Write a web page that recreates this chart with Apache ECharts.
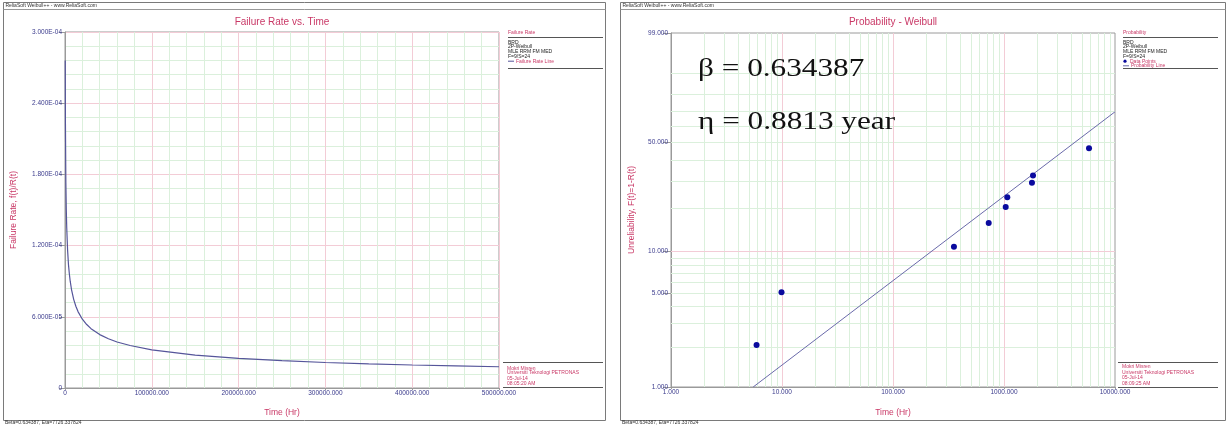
<!DOCTYPE html>
<html><head><meta charset="utf-8">
<style>html,body{margin:0;padding:0;background:#fff}#c{width:1230px;height:425px}</style>
<script src="https://cdn.jsdelivr.net/npm/echarts@6/dist/echarts.min.js"></script>
</head><body><div id="c"></div>
<script>
// ---- data ----
const rateTimes = [280, 500, 1000, 1500, 2000, 3000, 4000, 5000, 6000, 7500, 10000, 12500, 15000, 20000, 25000, 30000, 40000, 50000, 60000, 75000, 100000, 150000, 200000, 250000, 300000, 350000, 400000, 450000, 500000];
const rateValues = [2.76e-4, 2.23e-4, 1.73e-4, 1.50e-4, 1.35e-4, 1.16e-4, 1.04e-4, 9.63e-5, 9.0e-5, 8.30e-5, 7.47e-5, 6.89e-5, 6.44e-5, 5.80e-5, 5.35e-5, 5.00e-5, 4.50e-5, 4.15e-5, 3.88e-5, 3.58e-5, 3.22e-5, 2.77e-5, 2.50e-5, 2.30e-5, 2.15e-5, 2.04e-5, 1.94e-5, 1.86e-5, 1.79e-5];

const failTimes = [5.9, 9.9, 354, 728, 1036, 1071, 1786, 1825, 5834];
const unreliabilityPct = [2.06, 5.05, 10.77, 15.78, 20.27, 23.5, 29.2, 32.3, 46.5];
const lineTimes = [5.5, 10000];
const linePct = [1.0, 69.2];

const probLabelPct = [1, 5, 10, 50, 99];
const probMinorPct = [2, 3, 4, 5, 6, 7, 8, 9, 20, 30, 40, 50, 60, 70, 80, 90];
const probMajorPct = [10];
const timeMinorTicks = [2,3,4,5,6,7,8,9,20,30,40,50,60,70,80,90,200,300,400,500,600,700,800,900,2000,3000,4000,5000,6000,7000,8000,9000];
const timeMajorTicks = [10, 100, 1000];

// ---- helpers ----
const wb = p => Math.log(-Math.log(1 - p / 100));
const unwb = v => 100 * (1 - Math.exp(-Math.exp(v)));
const SANS = '"Liberation Sans", Arial, sans-serif';
const CRIMSON = '#c93866';
const NAVY = '#3a3a8c';
const PINK = '#f3ccd6';
const GREEN = '#dbf0dc';
const BORDER = '#7a7a7a';

function expLabel(v) {
  if (v === 0) return '0';
  const e = Math.floor(Math.log10(v) + 1e-9);
  const m = v / Math.pow(10, e);
  const sign = e < 0 ? '-' : '+';
  const a = Math.abs(e);
  return m.toFixed(3) + 'E' + sign + (a < 10 ? '0' + a : a);
}
function txt(x, y, s, size, color, align, extra) {
  return Object.assign({type: 'text', x: x, y: y, silent: true, z: 10,
    style: {text: s, font: size + 'px ' + SANS, fill: color, textAlign: align || 'left', textVerticalAlign: 'middle'}}, extra || {});
}
function hl(x1, x2, y, color, w) {
  return {type: 'line', silent: true, z: 10, shape: {x1: x1, y1: y, x2: x2, y2: y}, style: {stroke: color, lineWidth: w || 1}};
}
function rect(x, y, w, h) {
  return {type: 'rect', silent: true, z: 0, shape: {x: x, y: y, width: w, height: h}, style: {fill: 'none', stroke: BORDER, lineWidth: 1}};
}

const graphics = [];
// panel frames & header/footer
[[3.5, 602], [620.5, 605]].forEach(function (p) {
  graphics.push(rect(p[0], 2.5, p[1], 418));
  graphics.push(hl(p[0], p[0] + p[1], 9.5, '#999', 1));
  graphics.push(txt(p[0] + 2, 6, 'ReliaSoft Weibull++ - www.ReliaSoft.com', 5, '#333'));
  graphics.push(txt(p[0] + 1.5, 422.8, 'Beta=0.634387, Eta=7726.337824', 5, '#333'));
});
// titles
graphics.push(txt(282, 22.5, 'Failure Rate vs. Time', 10, CRIMSON, 'center'));
graphics.push(txt(893, 22.5, 'Probability - Weibull', 10, CRIMSON, 'center'));

// legend blocks
function legendBlock(x0, x1, header, items, date, time, bottomYs) {
  const LS = 5;
  graphics.push(txt(x0, 33, header, LS, CRIMSON));
  graphics.push(hl(x0, x1, 37.5, '#555', 1));
  ['BRD', '2P-Weibull', 'MLE RRM FM MED', 'F=9/S=24'].forEach(function (s, i) {
    graphics.push(txt(x0, 42.3 + i * 4.7, s, LS, '#222'));
  });
  items.forEach(function (it, i) {
    const y = 61.2 + i * 4.6;
    if (it.kind === 'line') {
      graphics.push(hl(x0, x0 + 6, y, it.color, 1));
    } else {
      graphics.push({type: 'circle', silent: true, z: 10, shape: {cx: x0 + 2, cy: y, r: 1.6}, style: {fill: it.color}});
    }
    graphics.push(txt(x0 + (it.kind === 'line' ? 8 : 7), y, it.text, LS, CRIMSON));
  });
  graphics.push(hl(x0, x1, 68.5, '#555', 1));
  graphics.push(hl(x0 - 5, x1, 362.5, '#555', 1));
  const lines = ['Mokri Misren', 'Universiti Teknologi PETRONAS', date, time];
  lines.forEach(function (s, i) { graphics.push(txt(x0 - 1, bottomYs[i], s, LS, CRIMSON)); });
  graphics.push(hl(x0 - 5, x1, 387.5, '#555', 1));
}
legendBlock(508, 603, 'Failure Rate', [{kind: 'line', color: '#55559a', text: 'Failure Rate Line'}], '05-Jul-14', '08:05:20 AM', [368.3, 373, 378.3, 383.3]);
legendBlock(1123, 1218, 'Probability', [{kind: 'dot', color: '#0a0a9e', text: 'Data Points'}, {kind: 'line', color: '#6a6aaa', text: 'Probability Line'}], '05-Jul-14', '08:09:25 AM', [366.8, 372.3, 377.8, 383.3]);

// beta / eta annotation
graphics.push({type: 'text', x: 698, y: 69.7, scaleX: 1.25, silent: true, z: 20,
  style: {text: '\u03b2 = 0.634387', font: '25px "Liberation Serif", "Times New Roman", serif', fill: '#111', textVerticalAlign: 'middle'}});
graphics.push({type: 'text', x: 698, y: 122.5, scaleX: 1.25, silent: true, z: 20,
  style: {text: '\u03b7 = 0.8813 year', font: '25px "Liberation Serif", "Times New Roman", serif', fill: '#111', textVerticalAlign: 'middle'}});

const chart = echarts.init(document.getElementById('c'), null, {renderer: 'canvas'});

// grid lines for the Weibull paper: [x, y, orientation(0=vertical,1=horizontal), major]
const gridData = [];
timeMinorTicks.forEach(function (t) { gridData.push([t, wb(50), 0, 0]); });
probMinorPct.forEach(function (p) { gridData.push([10, wb(p), 1, 0]); });
timeMajorTicks.forEach(function (t) { gridData.push([t, wb(50), 0, 1]); });
probMajorPct.forEach(function (p) { gridData.push([10, wb(p), 1, 1]); });

const axisLineStyle = {show: true, onZero: false, lineStyle: {color: '#9a9a9a', width: 1}};
const tickLabel = {color: NAVY, fontSize: 6.5, fontFamily: SANS};

const option = {
  animation: false,
  backgroundColor: '#fff',
  graphic: graphics,
  grid: [
    {left: 65, top: 32, width: 434, height: 356, show: true, borderColor: '#9a9a9a', borderWidth: 1, backgroundColor: 'transparent'},
    {left: 671, top: 33, width: 444, height: 354, show: true, borderColor: '#9a9a9a', borderWidth: 1, backgroundColor: 'transparent'}
  ],
  xAxis: [
    {gridIndex: 0, type: 'value', min: 0, max: 500000, interval: 100000,
      name: 'Time (Hr)', nameLocation: 'middle', nameGap: 20,
      nameTextStyle: {color: CRIMSON, fontSize: 8.5, fontFamily: SANS},
      axisLine: axisLineStyle, axisTick: {show: true, length: 2, lineStyle: {color: '#9a9a9a'}},
      axisLabel: Object.assign({margin: 1.5, formatter: function (v) { return v === 0 ? '0' : v.toFixed(3); }}, tickLabel),
      splitLine: {show: true, lineStyle: {color: PINK, width: 1}},
      minorTick: {show: false, splitNumber: 5},
      minorSplitLine: {show: true, lineStyle: {color: GREEN, width: 1}}},
    {gridIndex: 1, type: 'log', logBase: 10, min: 1, max: 10000,
      name: 'Time (Hr)', nameLocation: 'middle', nameGap: 21,
      nameTextStyle: {color: CRIMSON, fontSize: 8.5, fontFamily: SANS},
      axisLine: axisLineStyle, axisTick: {show: true, length: 2, lineStyle: {color: '#9a9a9a'}},
      axisLabel: Object.assign({margin: 2, formatter: function (v) { return Number(v).toFixed(3); }}, tickLabel),
      splitLine: {show: false}}
  ],
  yAxis: [
    {gridIndex: 0, type: 'value', min: 0, max: 3e-4, interval: 6e-5,
      name: 'Failure Rate, f(t)/R(t)', nameLocation: 'middle', nameGap: 47, nameRotate: 90,
      nameTextStyle: {color: CRIMSON, fontSize: 8.5, fontFamily: SANS},
      axisLine: axisLineStyle, axisTick: {show: true, length: 6, lineStyle: {color: '#9a9a9a'}},
      axisLabel: Object.assign({margin: 3, formatter: expLabel}, tickLabel),
      splitLine: {show: true, lineStyle: {color: PINK, width: 1}},
      minorTick: {show: false, splitNumber: 5},
      minorSplitLine: {show: true, lineStyle: {color: GREEN, width: 1}}},
    {gridIndex: 1, type: 'value', min: wb(1), max: wb(99),
      name: 'Unreliability, F(t)=1-R(t)', nameLocation: 'middle', nameGap: 35, nameRotate: 90,
      nameTextStyle: {color: CRIMSON, fontSize: 8.5, fontFamily: SANS},
      axisLine: axisLineStyle,
      axisTick: {show: true, length: 8, customValues: probLabelPct.map(wb), lineStyle: {color: '#9a9a9a'}},
      axisLabel: Object.assign({margin: 3, customValues: probLabelPct.map(wb), formatter: function (v) { return unwb(v).toFixed(3); }}, tickLabel),
      splitLine: {show: false}}
  ],
  series: [
    {type: 'line', xAxisIndex: 0, yAxisIndex: 0, showSymbol: false, symbol: 'none', z: 5,
      data: rateTimes.map(function (t, i) { return [t, rateValues[i]]; }),
      lineStyle: {color: '#55559a', width: 1.2}},
    {type: 'custom', xAxisIndex: 1, yAxisIndex: 1, z: 1, silent: true, data: gridData,
      renderItem: function (params, api) {
        const cs = params.coordSys;
        const p = api.coord([api.value(0), api.value(1)]);
        const horiz = api.value(2) === 1;
        const major = api.value(3) === 1;
        let shape;
        if (horiz) {
          const y = Math.round(p[1]) + 0.5;
          shape = {x1: cs.x, y1: y, x2: cs.x + cs.width, y2: y};
        } else {
          const x = Math.round(p[0]) + 0.5;
          shape = {x1: x, y1: cs.y, x2: x, y2: cs.y + cs.height};
        }
        return {type: 'line', shape: shape, style: {stroke: major ? PINK : GREEN, lineWidth: 1}};
      }},
    {type: 'line', xAxisIndex: 1, yAxisIndex: 1, showSymbol: false, symbol: 'none', z: 4,
      data: lineTimes.map(function (t, i) { return [t, wb(linePct[i])]; }),
      lineStyle: {color: '#6a6aaa', width: 1}},
    {type: 'scatter', xAxisIndex: 1, yAxisIndex: 1, z: 6, symbol: 'circle', symbolSize: 6,
      data: failTimes.map(function (t, i) { return [t, wb(unreliabilityPct[i])]; }),
      itemStyle: {color: '#0a0a9e', opacity: 1}}
  ]
};
chart.setOption(option);
</script>
</body></html>
